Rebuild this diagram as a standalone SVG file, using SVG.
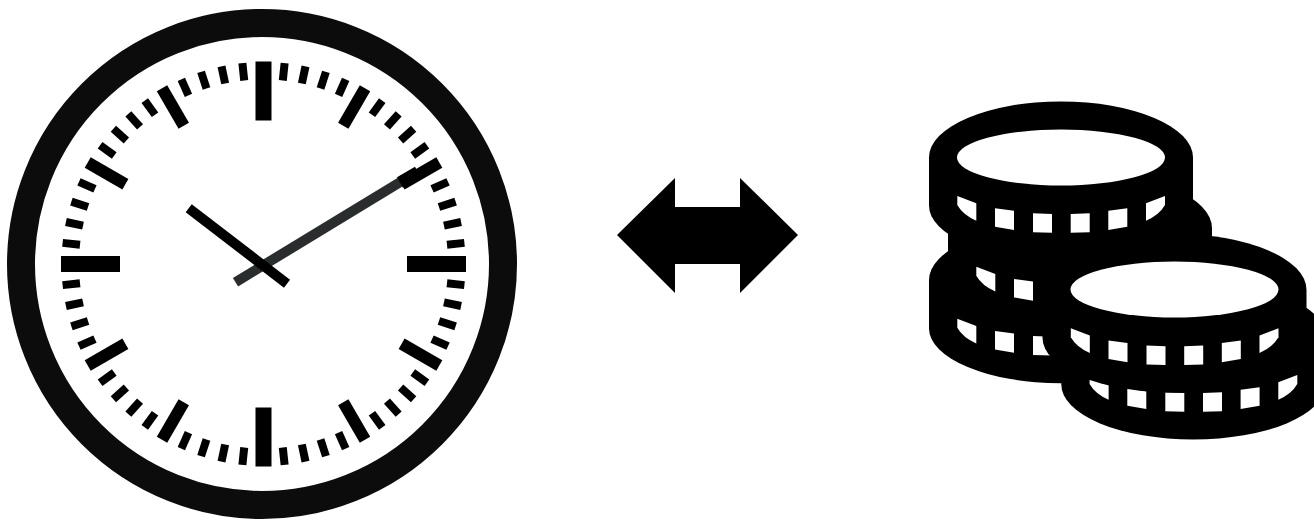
<svg xmlns="http://www.w3.org/2000/svg" xmlns:xlink="http://www.w3.org/1999/xlink" width="1314" height="521" viewBox="0 0 1314 521">
<style>
.ink{fill:#000}
.hole{fill:#fff}
.ring{fill:#fff;stroke:#0c0c0c;stroke-width:28}
.hour{stroke:#000;stroke-width:10}
.minute{stroke:#2a2d2e;stroke-width:10}
</style>
<defs>
<rect id="m" x="259.5" y="62" width="8" height="17.5" fill="#000"/>
<rect id="h" x="257.5" y="61" width="12" height="43.5" fill="#000"/>
<rect id="q" x="255.5" y="61.5" width="16" height="59" fill="#000"/>
<g id="five">
<use href="#m" transform="rotate(6 263.5 264)"/><use href="#m" transform="rotate(12 263.5 264)"/><use href="#m" transform="rotate(18 263.5 264)"/><use href="#m" transform="rotate(24 263.5 264)"/>
</g>
<g id="segs" class="hole">
<path d="M957.3 196L976.3 203.3V220.7Q963 215 957.3 205Z"/>
<path d="M995 208.3L1014 210.7V230L995 226.7Z"/>
<path d="M1033 213.3L1052 214V232.7L1033 232.3Z"/>
<path d="M1070.7 214L1089.7 213.3V232.3L1070.7 232.7Z"/>
<path d="M1108.3 210.7L1127.3 208.3V226.7L1108.3 230Z"/>
<path d="M1146 203.3L1165 196V205Q1159.3 215 1146 220.7Z"/>
</g>
<path id="body" d="M929 157.5A132 56 0 0 1 1193 157.5V205.5A132 55 0 0 1 929 205.5Z"/>
</defs>
<rect width="1314" height="521" fill="#fff"/>
<g id="clock">
<circle class="ring" cx="262" cy="264" r="241"/>
<use href="#q"/><use href="#q" transform="rotate(90 263.5 264)"/><use href="#q" transform="rotate(180 263.5 264)"/><use href="#q" transform="rotate(270 263.5 264)"/>
<use href="#h" transform="rotate(30 263.5 264)"/><use href="#h" transform="rotate(60 263.5 264)"/><use href="#h" transform="rotate(120 263.5 264)"/><use href="#h" transform="rotate(150 263.5 264)"/><use href="#h" transform="rotate(210 263.5 264)"/><use href="#h" transform="rotate(240 263.5 264)"/><use href="#h" transform="rotate(300 263.5 264)"/><use href="#h" transform="rotate(330 263.5 264)"/>
<use href="#five"/><use href="#five" transform="rotate(30 263.5 264)"/><use href="#five" transform="rotate(60 263.5 264)"/><use href="#five" transform="rotate(90 263.5 264)"/><use href="#five" transform="rotate(120 263.5 264)"/><use href="#five" transform="rotate(150 263.5 264)"/><use href="#five" transform="rotate(180 263.5 264)"/><use href="#five" transform="rotate(210 263.5 264)"/><use href="#five" transform="rotate(240 263.5 264)"/><use href="#five" transform="rotate(270 263.5 264)"/><use href="#five" transform="rotate(300 263.5 264)"/><use href="#five" transform="rotate(330 263.5 264)"/>
<line class="minute" x1="235.5" y1="282.2" x2="402" y2="181"/>
<line x1="400" y1="182.5" x2="418" y2="172" stroke="#000" stroke-width="12"/>
<line class="hour" x1="188.7" y1="208.3" x2="287" y2="283.7"/>
</g>
<g id="arrow">
<polygon class="ink" points="617,235 675,178 675,207 740,207 740,178 798,235 740,293 740,264 675,264 675,293"/>
</g>
<g id="coins">
<g id="coin-3"><use class="ink" href="#body" transform="translate(0 122.7)"/><use href="#segs" transform="translate(0 122.7)"/></g>
<g id="coin-2"><use class="ink" href="#body" transform="translate(19 70.7)"/><use href="#segs" transform="translate(19 70.7)"/></g>
<g id="coin-1"><use class="ink" href="#body"/><use href="#segs"/><ellipse class="hole" cx="1061" cy="157.5" rx="104" ry="28"/></g>
<g id="coin-5"><use class="ink" href="#body" transform="translate(132.3 179)"/><use href="#segs" transform="translate(132.3 179)"/></g>
<g id="coin-4"><use class="ink" href="#body" transform="translate(113.5 132.3)"/><use href="#segs" transform="translate(113.5 132.3)"/><ellipse class="hole" cx="1174.5" cy="289.5" rx="104" ry="28"/></g>
</g>
</svg>
